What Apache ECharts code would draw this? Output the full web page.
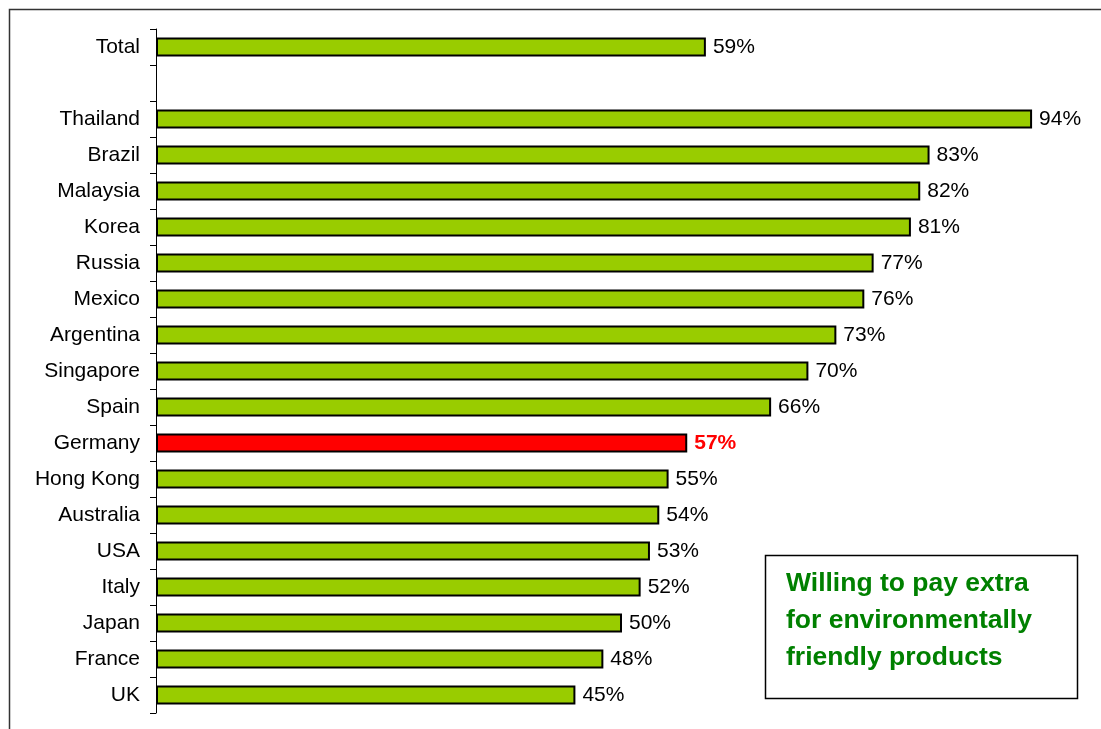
<!DOCTYPE html>
<html>
<head>
<meta charset="utf-8">
<script src="https://cdn.jsdelivr.net/npm/echarts@6/dist/echarts.min.js"></script>
<style>
html,body{margin:0;padding:0;background:#fff;}
#c{width:1101px;height:729px;}
</style>
</head>
<body>
<div id="c"></div>
<script>
const categories = ['Total', '', 'Thailand', 'Brazil', 'Malaysia', 'Korea', 'Russia', 'Mexico', 'Argentina', 'Singapore', 'Spain', 'Germany', 'Hong Kong', 'Australia', 'USA', 'Italy', 'Japan', 'France', 'UK'];
const values = [59, null, 94, 83, 82, 81, 77, 76, 73, 70, 66, 57, 55, 54, 53, 52, 50, 48, 45];
const highlight = 'Germany';
const noteLines = ['Willing to pay extra', 'for environmentally', 'friendly products'];

const FONT = '"Liberation Sans", Arial, sans-serif';
const chart = echarts.init(document.getElementById('c'));
const data = values.map((v, i) => {
  if (categories[i] === highlight) {
    return {
      value: v,
      itemStyle: { color: '#FF0000' },
      label: { color: '#FF0000', fontWeight: 'bold' }
    };
  }
  return v;
});
chart.setOption({
  animation: false,
  grid: { left: 156, right: 13, top: 29, bottom: 16, containLabel: false },
  xAxis: { type: 'value', min: 0, max: 100, show: false },
  yAxis: {
    type: 'category', data: categories, inverse: true,
    axisLine: { lineStyle: { color: '#000', width: 1 } },
    axisTick: { show: true, length: 6, lineStyle: { color: '#000' } },
    axisLabel: { color: '#000', fontSize: 21, fontFamily: FONT, margin: 16 },
    splitLine: { show: false }
  },
  series: [{
    type: 'bar', data: data, barWidth: 19,
    itemStyle: { color: '#99CC00', borderColor: '#000', borderWidth: 2 },
    label: {
      show: true, position: 'right', distance: 7,
      formatter: p => p.value == null ? '' : p.value + '%',
      color: '#000', fontSize: 21, fontFamily: FONT
    }
  }],
  graphic: [
    { type: 'rect', silent: true, z: -1, shape: { x: 9.5, y: 9.5, width: 1200, height: 800 }, style: { fill: 'none', stroke: '#333', lineWidth: 1.5 } },
    { type: 'rect', shape: { x: 765.5, y: 555.5, width: 312, height: 143 }, style: { fill: '#fff', stroke: '#000', lineWidth: 1.5 } },
    { type: 'text', left: 786, top: 565, style: { text: noteLines.join('\n'), fill: '#008000', font: 'bold 26.5px ' + FONT, lineHeight: 37 } }
  ]
});
</script>
</body>
</html>
